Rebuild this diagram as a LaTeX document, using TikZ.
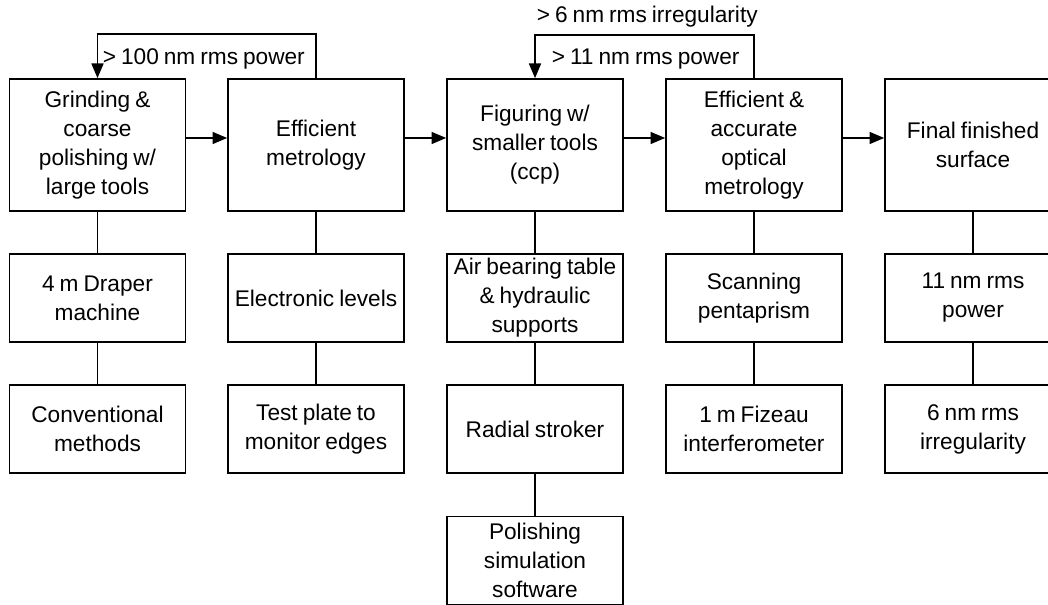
\documentclass[tikz,border=0pt]{standalone}
\usepackage{fontspec}
\setmainfont{Liberation Sans}
\usetikzlibrary{arrows.meta}
\newcommand{\boxfont}{\fontsize{17}{21.75}\selectfont\spaceskip=0.22em plus 0.05em\relax}

\begin{document}
\begin{tikzpicture}[x=0.75pt,y=-0.75pt,line width=1.25pt,font=\boxfont,
    stage/.style={draw,align=center,minimum width=132pt,minimum height=99pt,inner sep=2pt},
    tool/.style={draw,align=center,minimum width=132pt,minimum height=66pt,inner sep=2pt},
    arr/.style={-{Triangle[length=11pt,width=9pt]}}]
        \clip (0,0) rectangle (1048,605);
        % process stages
        \node[stage] (grind) at (97.5,145){Grinding \&\\coarse\\polishing w/\\large tools};
        \node[stage] (met) at (316,145){Efficient\\metrology};
        \node[stage] (fig) at (535,145){Figuring w/\\smaller tools\\(ccp)};
        \node[stage] (optmet) at (754,145){Efficient \&\\accurate\\optical\\metrology};
        \node[stage] (final) at (973,145){Final finished\\surface};
        % equipment and results below each stage
        \node[tool] (draper) at (97.5,298){4 m Draper\\machine};
        \node[tool] (conv) at (97.5,429){Conventional\\methods};
        \node[tool] (levels) at (316,298){Electronic levels};
        \node[tool] (plate) at (316,429){Test plate to\\monitor edges};
        \node[tool] (airtab) at (535,298){Air bearing table\\\& hydraulic\\supports};
        \node[tool] (stroker) at (535,429){Radial stroker};
        \node[tool] (polsim) at (535,560.5){Polishing\\simulation\\software};
        \node[tool] (penta) at (754,298){Scanning\\pentaprism};
        \node[tool] (fizeau) at (754,429){1 m Fizeau\\interferometer};
        \node[tool] (power) at (973,298){11 nm rms\\power};
        \node[tool] (irreg) at (973,429){6 nm rms\\irregularity};
        \foreach \a/\b in {grind/draper,draper/conv,met/levels,levels/plate,fig/airtab,airtab/stroker,
            stroker/polsim,optmet/penta,penta/fizeau,final/power,power/irreg}
            \draw (\a.south)--(\b.north);
        % main flow
        \foreach \a/\b in {grind/met,met/fig,fig/optmet,optmet/final}
            \draw[arr] ([yshift=5.25pt]\a.east)--([yshift=5.25pt]\b.west);
        % feedback loops
        \draw[arr] (met.north)--++(0,-44)-|(grind.north);
        \node[anchor=west,inner sep=0pt] (fbgrind) at (102,59){> 100 nm rms power};
        \draw[arr] (optmet.north)--++(0,-43)-|(fig.north);
        \node[anchor=west,inner sep=0pt] (fbpower) at (551,59){> 11 nm rms power};
        \node[anchor=west,inner sep=0pt] (fbirreg) at (536,17){> 6 nm rms irregularity};
      \end{tikzpicture}
\end{document}
